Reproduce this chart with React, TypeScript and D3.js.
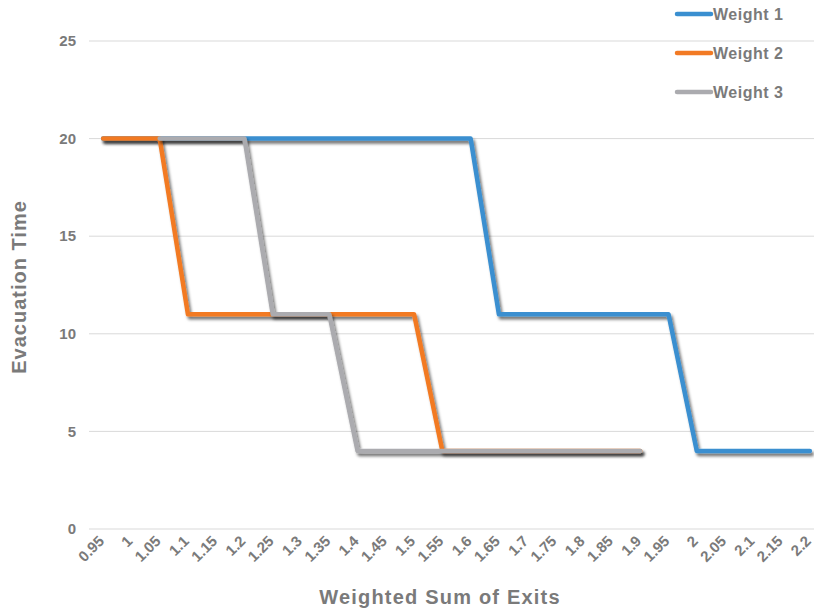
import React from "react";
import * as d3 from "d3";

// Weighted sum of exits (category axis)
const categories: string[] = [
  "0.95", "1", "1.05", "1.1", "1.15", "1.2", "1.25", "1.3", "1.35", "1.4",
  "1.45", "1.5", "1.55", "1.6", "1.65", "1.7", "1.75", "1.8", "1.85", "1.9",
  "1.95", "2", "2.05", "2.1", "2.15", "2.2",
];

// Evacuation time per weighting scheme (null = no value)
const weight1: (number | null)[] = [
  20, 20, 20, 20, 20, 20, 20, 20, 20, 20, 20, 20, 20, 20,
  11, 11, 11, 11, 11, 11, 11,
  4, 4, 4, 4, 4,
];
const weight2: (number | null)[] = [
  20, 20, 20,
  11, 11, 11, 11, 11, 11, 11, 11, 11,
  4, 4, 4, 4, 4, 4, 4, 4,
  null, null, null, null, null, null,
];
const weight3: (number | null)[] = [
  null, null,
  20, 20, 20, 20,
  11, 11, 11,
  4, 4, 4, 4, 4, 4, 4, 4, 4, 4, 4,
  null, null, null, null, null, null,
];

const seriesNames = ["Weight 1", "Weight 2", "Weight 3"];
const seriesColors = ["#3A8FD0", "#F27A24", "#ABABAF"];
const yTicks = [0, 5, 10, 15, 20, 25];

const W = 814;
const H = 616;

export default function App() {
  const x = d3.scalePoint<string>().domain(categories).range([89, 824]).padding(0.5);
  const y = d3.scaleLinear().domain([0, 25]).range([529, 41]);

  const series = [weight1, weight2, weight3];
  const line = d3
    .line<number | null>()
    .defined((d) => d !== null)
    .x((_, i) => x(categories[i]) as number)
    .y((d) => y(d as number));

  const font = "'Liberation Sans', 'DejaVu Sans', sans-serif";
  const grey = "#7A7A7A";

  return (
    <svg width={W} height={H} style={{ position: "absolute", left: 0, top: 0 }} fontFamily={font}>
      <defs>
        <filter id="shadow" x="-10%" y="-10%" width="120%" height="130%">
          <feDropShadow dx="2" dy="3" stdDeviation="1.4" floodColor="#000" floodOpacity="0.55" />
        </filter>
      </defs>
      <rect width={W} height={H} fill="#fff" />

      {yTicks.map((t) => (
        <g key={t}>
          <line x1={89} x2={W} y1={y(t)} y2={y(t)} stroke="#D9D9D9" strokeWidth={1} />
          <text x={76} y={y(t)} dy="0.35em" textAnchor="end" fontSize={15} fill={grey} fontWeight={600}>
            {t}
          </text>
        </g>
      ))}

      {categories.map((c) => (
        <text
          key={c}
          transform={`translate(${(x(c) as number) + 2},${542}) rotate(-45)`}
          textAnchor="end"
          fontSize={15}
          fill={grey}
          fontWeight={600}
        >
          {c}
        </text>
      ))}

      {series.map((s, i) => (
        <path
          key={seriesNames[i]}
          d={line(s) || ""}
          fill="none"
          stroke={seriesColors[i]}
          strokeWidth={4.5}
          strokeLinejoin="round"
          strokeLinecap="round"
          filter="url(#shadow)"
        />
      ))}

      {seriesNames.map((n, i) => {
        const ly = 14 + i * 39;
        return (
          <g key={n}>
            <line x1={677} x2={711} y1={ly} y2={ly} stroke={seriesColors[i]} strokeWidth={4.5} strokeLinecap="round" />
            <text x={713} y={ly} dy="0.35em" fontSize={16} letterSpacing={0.5} fill={grey} fontWeight={600}>
              {n}
            </text>
          </g>
        );
      })}

      <text
        transform={`translate(19,${287}) rotate(-90)`}
        textAnchor="middle"
        dy="0.35em"
        fontSize={20}
        letterSpacing={1}
        fontWeight="bold"
        fill={grey}
      >
        Evacuation Time
      </text>
      <text x={440} y={597} dy="0.35em" textAnchor="middle" fontSize={20} letterSpacing={1.2} fontWeight="bold" fill={grey}>
        Weighted Sum of Exits
      </text>
    </svg>
  );
}
